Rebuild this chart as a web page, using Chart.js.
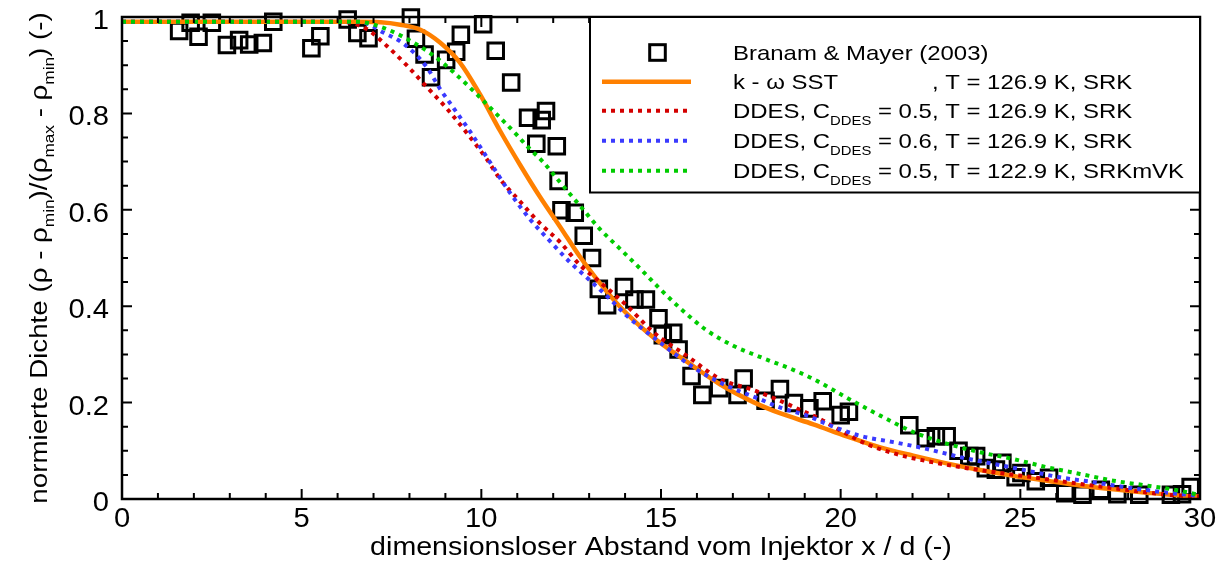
<!DOCTYPE html>
<html>
<head>
<meta charset="utf-8">
<script src="https://cdn.jsdelivr.net/npm/chart.js@4.4.1/dist/chart.umd.min.js"></script>
<style>
  html, body { margin: 0; padding: 0; background: #fff; }
  #wrap { width: 1226px; height: 563px; position: relative; }
</style>
</head>
<body>
<div id="wrap"><canvas id="chart"></canvas></div>
<script>
// Messdaten Branam & Mayer (2003): x/d und normierte Dichte
const expX = [1.59, 1.91, 2.13, 2.5, 2.92, 3.26, 3.54, 3.92, 4.21, 5.27, 5.52, 6.28, 6.55, 6.86,
  8.04, 8.18, 8.42, 8.6, 9.02, 9.3, 9.43, 10.05, 10.4, 10.83, 11.3, 11.68, 11.8, 11.53, 12.1,
  12.15, 12.23, 12.6, 12.85, 13.08, 13.27, 13.5, 13.97, 14.26, 14.58, 14.93, 15.05, 15.34,
  15.49, 15.85, 16.15, 16.62, 17.13, 17.3, 17.91, 18.31, 18.7, 19.13, 19.5, 20.0, 20.23,
  21.91, 22.37, 22.65, 22.95, 23.28, 23.58, 23.77, 24.04, 24.32, 24.5, 24.87, 25.03, 25.43,
  25.8, 26.25, 26.73, 27.24, 27.7, 28.31, 29.19, 29.5, 29.74];
const expY = [0.971, 0.988, 0.959, 0.988, 0.942, 0.952, 0.943, 0.946, 0.99, 0.935, 0.96, 0.995, 0.967, 0.956,
  0.999, 0.955, 0.922, 0.875, 0.911, 0.928, 0.963, 0.985, 0.93, 0.864, 0.791, 0.786, 0.805, 0.737, 0.732,
  0.66, 0.599, 0.594, 0.546, 0.5, 0.436, 0.402, 0.44, 0.414, 0.414, 0.375, 0.34, 0.345,
  0.31, 0.255, 0.216, 0.23, 0.216, 0.25, 0.204, 0.228, 0.199, 0.188, 0.203, 0.174, 0.181,
  0.153, 0.126, 0.13, 0.13, 0.1, 0.089, 0.089, 0.064, 0.061, 0.075, 0.045, 0.054, 0.037,
  0.044, 0.012, 0.009, 0.019, 0.01, 0.009, 0.009, 0.01, 0.025];

// k-omega SST, T = 126.9 K, SRK
const sstX = [0, 6.5, 7.2, 7.74, 8.29, 8.85, 9.41, 9.96, 10.52, 11.08, 11.63, 12.19, 12.75, 13.3, 13.86,
  14.79, 15.72, 16.64, 17.57, 18.31, 19.24, 20.17, 21.1, 22.02, 22.95, 23.88, 24.8, 25.73, 26.66,
  27.59, 28.52, 29.45, 30];
const sstY = [0.99, 0.99, 0.989, 0.984, 0.974, 0.947, 0.905, 0.84, 0.764, 0.693, 0.627, 0.565, 0.502, 0.448, 0.399,
  0.335, 0.285, 0.238, 0.201, 0.178, 0.155, 0.13, 0.107, 0.09, 0.074, 0.06, 0.048, 0.038, 0.028,
  0.02, 0.013, 0.007, 0.005];

// DDES, C_DDES = 0.5, T = 126.9 K, SRK
const ddes05X = [0, 6.1, 6.81, 7.37, 7.92, 8.48, 9.04, 9.59, 10.15, 10.52, 11.08, 11.63, 12.19, 12.75, 13.3,
  14.05, 14.79, 15.72, 16.64, 17.57, 18.31, 18.87, 19.43, 19.99, 20.73, 21.66, 22.58, 23.51, 24.44,
  25.36, 26.29, 27.22, 28.15, 29.08, 30];
const ddes05Y = [0.99, 0.99, 0.975, 0.94, 0.9, 0.855, 0.81, 0.76, 0.705, 0.664, 0.617, 0.572, 0.533, 0.485, 0.45,
  0.401, 0.346, 0.297, 0.249, 0.226, 0.204, 0.185, 0.166, 0.142, 0.114, 0.091, 0.076, 0.064, 0.054,
  0.045, 0.035, 0.026, 0.017, 0.009, 0.005];

// DDES, C_DDES = 0.6, T = 126.9 K, SRK
const ddes06X = [0, 6.6, 7.27, 7.88, 8.48, 8.85, 9.22, 9.69, 10.24, 10.8, 11.36, 11.91, 12.47, 13.03, 13.58,
  14.05, 14.97, 15.9, 16.83, 17.76, 18.31, 19.06, 19.8, 20.54, 21.47, 22.39, 23.32, 24.25, 25.18,
  26.1, 27.03, 27.96, 28.89, 30];
const ddes06Y = [0.99, 0.99, 0.968, 0.942, 0.896, 0.851, 0.812, 0.762, 0.699, 0.635, 0.58, 0.535, 0.491, 0.453, 0.415,
  0.38, 0.325, 0.273, 0.235, 0.207, 0.19, 0.173, 0.15, 0.131, 0.118, 0.104, 0.087, 0.073, 0.059,
  0.045, 0.035, 0.024, 0.015, 0.006];

// DDES, C_DDES = 0.5, T = 122.9 K, SRKmVK
const ddesVkX = [0, 6.6, 6.81, 7.46, 8.11, 8.67, 9.22, 9.87, 10.43, 10.98, 11.26, 11.72, 12.19, 12.75, 13.3,
  13.86, 14.42, 14.97, 15.53, 16.27, 17.01, 17.85, 18.68, 19.24, 20.17, 21.1, 22.02, 22.95, 23.88,
  24.8, 25.73, 26.66, 27.59, 28.52, 29.45, 30];
const ddesVkY = [0.99, 0.99, 0.988, 0.972, 0.947, 0.92, 0.886, 0.84, 0.798, 0.756, 0.733, 0.699, 0.657, 0.608, 0.56,
  0.519, 0.478, 0.436, 0.396, 0.35, 0.318, 0.292, 0.268, 0.249, 0.21, 0.173, 0.139, 0.115, 0.097,
  0.083, 0.066, 0.052, 0.038, 0.028, 0.017, 0.008];

const X_TICKS = [0, 5, 10, 15, 20, 25, 30];
const X_TICK_LABELS = ['0', '5', '10', '15', '20', '25', '30'];
const Y_TICKS = [0, 0.2, 0.4, 0.6, 0.8, 1];
const Y_TICK_LABELS = ['0', '0.2', '0.4', '0.6', '0.8', '1'];
const X_MINOR_STEP = 1;
const Y_MINOR_STEP = 0.05;

const ORANGE = '#ff8000';
const RED = '#d40000';
const BLUE = '#3a3aff';
const GREEN = '#00cc00';

const FONT = '"Liberation Sans", Arial, Helvetica, sans-serif';
const SUB_SCALE = 0.62;
const SUB_DROP = 0.3;

const toPoints = (xs, ys) => xs.map((x, i) => ({ x, y: ys[i] }));

function dotted(label, color, xs, ys) {
  return {
    label,
    data: toPoints(xs, ys),
    showLine: true,
    borderColor: color,
    borderWidth: 4,
    borderDash: [4, 5],
    borderCapStyle: 'butt',
    cubicInterpolationMode: 'monotone',
    pointRadius: 0,
    fill: false,
  };
}

// Textlaeufe mit Tiefstellung, leicht breit gezogen wie in Tecplot
function runsWidth(ctx, runs, size) {
  let w = 0;
  for (const r of runs) {
    ctx.font = `${r.sub ? size * SUB_SCALE : size}px ${FONT}`;
    w += ctx.measureText(r.t).width;
  }
  return w;
}

function drawRuns(ctx, runs, x, y, size, sx, align) {
  ctx.save();
  ctx.fillStyle = '#000';
  ctx.textBaseline = 'alphabetic';
  ctx.textAlign = 'left';
  const w = runsWidth(ctx, runs, size) * sx;
  const x0 = align === 'center' ? x - w / 2 : align === 'right' ? x - w : x;
  ctx.translate(x0, y);
  ctx.scale(sx, 1);
  let cx = 0;
  for (const r of runs) {
    const s = r.sub ? size * SUB_SCALE : size;
    ctx.font = `${s}px ${FONT}`;
    ctx.fillText(r.t, cx, r.sub ? size * SUB_DROP : 0);
    cx += ctx.measureText(r.t).width;
  }
  ctx.restore();
  return w;
}

const LEGEND_ROWS = [
  { kind: 'marker', runs: [{ t: 'Branam & Mayer (2003)' }] },
  { kind: 'line', color: ORANGE, dash: [], width: 4.5, runs: [{ t: 'k - ω SST' }], tail: ', T = 126.9 K, SRK' },
  { kind: 'line', color: RED, dash: [4, 5], width: 4,
    runs: [{ t: 'DDES, C' }, { t: 'DDES', sub: true }, { t: ' = 0.5, T = 126.9 K, SRK' }] },
  { kind: 'line', color: BLUE, dash: [4, 5], width: 4,
    runs: [{ t: 'DDES, C' }, { t: 'DDES', sub: true }, { t: ' = 0.6, T = 126.9 K, SRK' }] },
  { kind: 'line', color: GREEN, dash: [4, 5], width: 4,
    runs: [{ t: 'DDES, C' }, { t: 'DDES', sub: true }, { t: ' = 0.5, T = 122.9 K, SRKmVK' }] },
];

const Y_TITLE = [
  { t: 'normierte Dichte (ρ - ρ' }, { t: 'min', sub: true }, { t: ')/(ρ' }, { t: 'max', sub: true },
  { t: ' - ρ' }, { t: 'min', sub: true }, { t: ') (-)' },
];
const X_TITLE = [{ t: 'dimensionsloser Abstand vom Injektor x / d (-)' }];

const LEGEND_FONT = 21;
const LEGEND_SX = 1.14;

const framePlugin = {
  id: 'tecplotFrame',
  afterDraw(chart) {
    const { ctx, chartArea: a, scales: { x, y } } = chart;
    const MAJOR = 10, MINOR = 6;
    ctx.save();
    ctx.strokeStyle = '#000';
    ctx.lineWidth = 2;
    ctx.lineCap = 'butt';
    ctx.beginPath();
    const nx = Math.round((x.max - x.min) / X_MINOR_STEP);
    for (let i = 0; i <= nx; i++) {
      const v = x.min + i * X_MINOR_STEP;
      const len = X_TICKS.some(t => Math.abs(t - v) < 1e-9) ? MAJOR : MINOR;
      const px = x.getPixelForValue(v);
      ctx.moveTo(px, a.bottom); ctx.lineTo(px, a.bottom - len);
      ctx.moveTo(px, a.top); ctx.lineTo(px, a.top + len);
    }
    const ny = Math.round((y.max - y.min) / Y_MINOR_STEP);
    for (let i = 0; i <= ny; i++) {
      const v = y.min + i * Y_MINOR_STEP;
      const len = Y_TICKS.some(t => Math.abs(t - v) < 1e-9) ? MAJOR : MINOR;
      const py = y.getPixelForValue(v);
      ctx.moveTo(a.left, py); ctx.lineTo(a.left + len, py);
      ctx.moveTo(a.right, py); ctx.lineTo(a.right - len, py);
    }
    ctx.stroke();
    ctx.lineWidth = 2.5;
    ctx.strokeRect(a.left, a.top, a.right - a.left, a.bottom - a.top);

    // Achsbeschriftung
    X_TICKS.forEach((v, i) => {
      drawRuns(ctx, [{ t: X_TICK_LABELS[i] }], x.getPixelForValue(v), a.bottom + 28, 27, 1.08, 'center');
    });
    Y_TICKS.forEach((v, i) => {
      drawRuns(ctx, [{ t: Y_TICK_LABELS[i] }], a.left - 13, y.getPixelForValue(v) + 12, 27, 1.08, 'right');
    });
    drawRuns(ctx, X_TITLE, (a.left + a.right) / 2, 555, 26, 1.1, 'center');
    ctx.save();
    ctx.translate(46.5, (a.top + a.bottom) / 2);
    ctx.rotate(-Math.PI / 2);
    drawRuns(ctx, Y_TITLE, 0, 0, 23.5, 1.18, 'center');
    ctx.restore();

    // Legende oben rechts
    const box = { left: 590, top: a.top, right: a.right, bottom: 192.5 };
    ctx.fillStyle = '#fff';
    ctx.fillRect(box.left, box.top, box.right - box.left, box.bottom - box.top);
    ctx.lineWidth = 2;
    ctx.strokeStyle = '#000';
    ctx.strokeRect(box.left, box.top, box.right - box.left, box.bottom - box.top);
    const rowY = [52.5, 81.7, 110.7, 140.7, 170.7];
    const textX = 733;
    const alignW = runsWidth(ctx, [{ t: 'DDES, C' }, { t: 'DDES', sub: true }, { t: ' = 0.5' }], LEGEND_FONT) * LEGEND_SX;
    LEGEND_ROWS.forEach((row, i) => {
      const ry = rowY[i];
      if (row.kind === 'marker') {
        ctx.lineWidth = 3;
        ctx.strokeStyle = '#000';
        ctx.strokeRect(657.5 - 7.8, ry - 7.8, 15.6, 15.6);
      } else {
        ctx.save();
        ctx.strokeStyle = row.color;
        ctx.lineWidth = row.width;
        ctx.setLineDash(row.dash);
        ctx.beginPath();
        ctx.moveTo(602, ry); ctx.lineTo(691, ry);
        ctx.stroke();
        ctx.restore();
      }
      drawRuns(ctx, row.runs, textX, ry + 7.5, LEGEND_FONT, LEGEND_SX, 'left');
      if (row.tail) drawRuns(ctx, [{ t: row.tail }], textX + alignW, ry + 7.5, LEGEND_FONT, LEGEND_SX, 'left');
    });
    ctx.restore();
  },
};

new Chart(document.getElementById('chart'), {
  type: 'scatter',
  data: {
    datasets: [
      dotted('DDES, C_DDES = 0.5, T = 122.9 K, SRKmVK', GREEN, ddesVkX, ddesVkY),
      dotted('DDES, C_DDES = 0.6, T = 126.9 K, SRK', BLUE, ddes06X, ddes06Y),
      dotted('DDES, C_DDES = 0.5, T = 126.9 K, SRK', RED, ddes05X, ddes05Y),
      {
        label: 'k - ω SST, T = 126.9 K, SRK',
        data: toPoints(sstX, sstY),
        showLine: true,
        borderColor: ORANGE,
        borderWidth: 4.5,
        cubicInterpolationMode: 'monotone',
        pointRadius: 0,
        fill: false,
      },
      {
        label: 'Branam & Mayer (2003)',
        data: toPoints(expX, expY),
        showLine: false,
        pointStyle: 'rect',
        pointRadius: 11,
        pointBorderWidth: 3,
        pointBorderColor: '#000',
        pointBackgroundColor: 'rgba(0,0,0,0)',
        clip: false,
      },
    ],
  },
  options: {
    responsive: true,
    maintainAspectRatio: false,
    animation: false,
    layout: { padding: { left: 122, right: 26, top: 17, bottom: 64 } },
    plugins: { legend: { display: false }, tooltip: { enabled: false } },
    scales: {
      x: { type: 'linear', min: 0, max: 30, display: false },
      y: { type: 'linear', min: 0, max: 1, display: false },
    },
  },
  plugins: [framePlugin],
});
</script>
</body>
</html>
